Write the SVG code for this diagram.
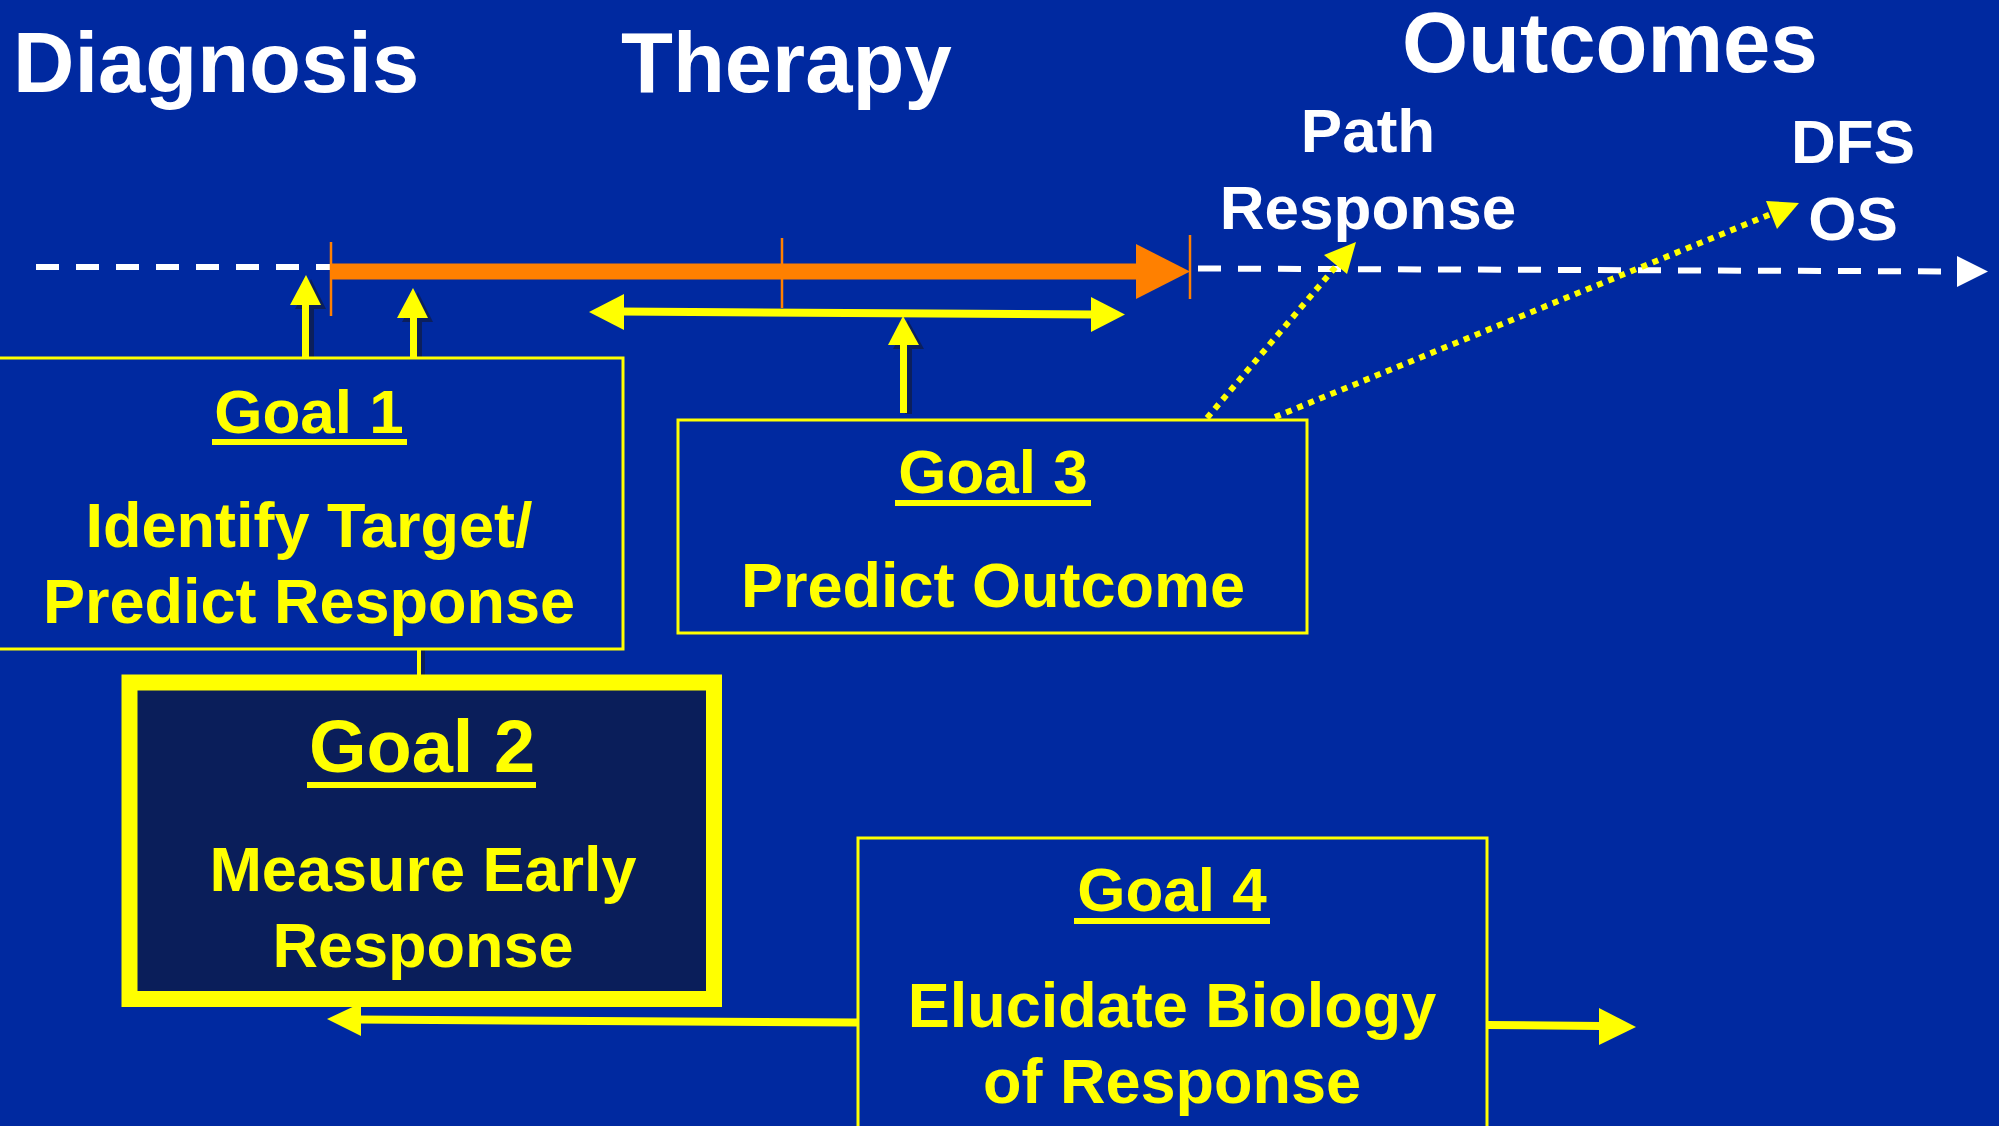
<svg xmlns="http://www.w3.org/2000/svg" width="1999" height="1126" viewBox="0 0 1999 1126">
<style>
text{font-family:"Liberation Sans",Arial,sans-serif;font-weight:bold;text-anchor:middle}
.hdr{fill:#FFFFFF;font-size:85px;text-anchor:start}
.lbl{fill:#FFFFFF;font-size:62px}
.gt{fill:#FFFF00;font-size:62px}
.gb{fill:#FFFF00;font-size:63px}
.ul{fill:#FFFF00}
.box{fill:#0029A0;stroke:#FFFF00;stroke-width:3}
.ylw{fill:#FFFF00}
.shd{fill:#0B1F5C}
.yl{stroke:#FFFF00;stroke-width:8;fill:none}
.dot{stroke:#FFFF00;stroke-width:6;stroke-dasharray:6 6;fill:none}
.wd{stroke:#FFFFFF;stroke-width:6;stroke-dasharray:23 17;fill:none}
.tick{stroke:#FF8000;stroke-width:2.5}
</style>
<rect width="1999" height="1126" fill="#0029A0"/>

<g id="headers">
<text class="hdr" x="13" y="92">Diagnosis</text>
<text class="hdr" x="621" y="92">Therapy</text>
<text class="hdr" x="1402" y="72">Outcomes</text>
</g>

<g id="outcome-labels">
<text class="lbl" x="1368" y="152">Path</text>
<text class="lbl" x="1368" y="229">Response</text>
<text class="lbl" x="1853" y="163">DFS</text>
<text class="lbl" x="1853" y="240">OS</text>
</g>

<g id="connectors">
<!-- timeline -->
<line class="wd" x1="36" y1="267" x2="330" y2="267"/>
<line x1="331" y1="271.5" x2="1140" y2="271.5" stroke="#FF8000" stroke-width="16"/>
<polygon points="1136,244 1190,271.5 1136,299" fill="#FF8000"/>
<line class="tick" x1="331" y1="242" x2="331" y2="316"/>
<line class="tick" x1="782" y1="238" x2="782" y2="308"/>
<line class="tick" x1="1190" y1="235" x2="1190" y2="299"/>
<line class="wd" x1="1198" y1="268.5" x2="1958" y2="271.5"/>
<polygon points="1957,256 1988,271.5 1957,287" fill="#FFFFFF"/>

<!-- up arrows -->
<g transform="translate(5,4)" class="shd">
<rect x="302" y="304" width="7" height="51"/><polygon points="290,305 306,275 321,305"/>
<rect x="410" y="316" width="7" height="41"/><polygon points="397,318 413,288 428,318"/>
<rect x="900" y="343" width="7" height="67"/><polygon points="888,345 903,316 919,345"/>
</g>
<g class="ylw">
<rect x="302" y="304" width="7" height="54"/><polygon points="290,305 306,275 321,305"/>
<rect x="410" y="316" width="7" height="42"/><polygon points="397,318 413,288 428,318"/>
<rect x="900" y="343" width="7" height="70"/><polygon points="888,345 903,316 919,345"/>
</g>

<!-- therapy window double arrow -->
<line class="yl" x1="620" y1="311.5" x2="1094" y2="314.5"/>
<polygon class="ylw" points="589,312 624,294 624,330"/>
<polygon class="ylw" points="1125,314.5 1091,297 1091,332"/>

<!-- goal 1 to goal 2 -->
<line x1="423" y1="649" x2="423" y2="676" stroke="#0B1F5C" stroke-width="4"/>
<line x1="419" y1="649" x2="419" y2="676" stroke="#FFFF00" stroke-width="4"/>

<!-- dotted predictions -->
<line class="dot" x1="1207" y1="418" x2="1338" y2="264"/>
<polygon class="ylw" points="1356,242 1347,274 1324,255"/>
<line class="dot" x1="1275" y1="417" x2="1771" y2="214"/>
<polygon class="ylw" points="1799,203 1777,229 1766,201"/>

<!-- goal 4 arrows -->
<line class="yl" x1="858" y1="1022.5" x2="358" y2="1019.5"/>
<polygon class="ylw" points="327,1019 361,1003 361,1036"/>
<line class="yl" x1="1487" y1="1025" x2="1601" y2="1026"/>
<polygon class="ylw" points="1636,1027 1599,1008 1599,1045"/>
</g>

<g id="goal1">
<rect class="box" x="-5" y="358" width="628" height="291"/>
<text class="gt" x="309" y="433">Goal 1</text>
<rect class="ul" x="212" y="439" width="195" height="6"/>
<text class="gb" x="309" y="547">Identify Target/</text>
<text class="gb" x="309" y="623">Predict Response</text>
</g>

<g id="goal2">
<rect x="129.5" y="682.5" width="584.5" height="316.5" fill="#0A1E5A" stroke="#FFFF00" stroke-width="16"/>
<text class="gt" x="422" y="772" style="font-size:74px">Goal 2</text>
<rect class="ul" x="307" y="782" width="229" height="6"/>
<text class="gb" x="423" y="891">Measure Early</text>
<text class="gb" x="423" y="967">Response</text>
</g>

<g id="goal3">
<rect class="box" x="678" y="420" width="629" height="213"/>
<text class="gt" x="993" y="493">Goal 3</text>
<rect class="ul" x="895" y="500" width="196" height="6"/>
<text class="gb" x="993" y="607">Predict Outcome</text>
</g>

<g id="goal4">
<rect class="box" x="858" y="838" width="629" height="300"/>
<text class="gt" x="1172" y="911">Goal 4</text>
<rect class="ul" x="1074" y="918" width="196" height="6"/>
<text class="gb" x="1172" y="1027">Elucidate Biology</text>
<text class="gb" x="1172" y="1103">of Response</text>
</g>
</svg>
